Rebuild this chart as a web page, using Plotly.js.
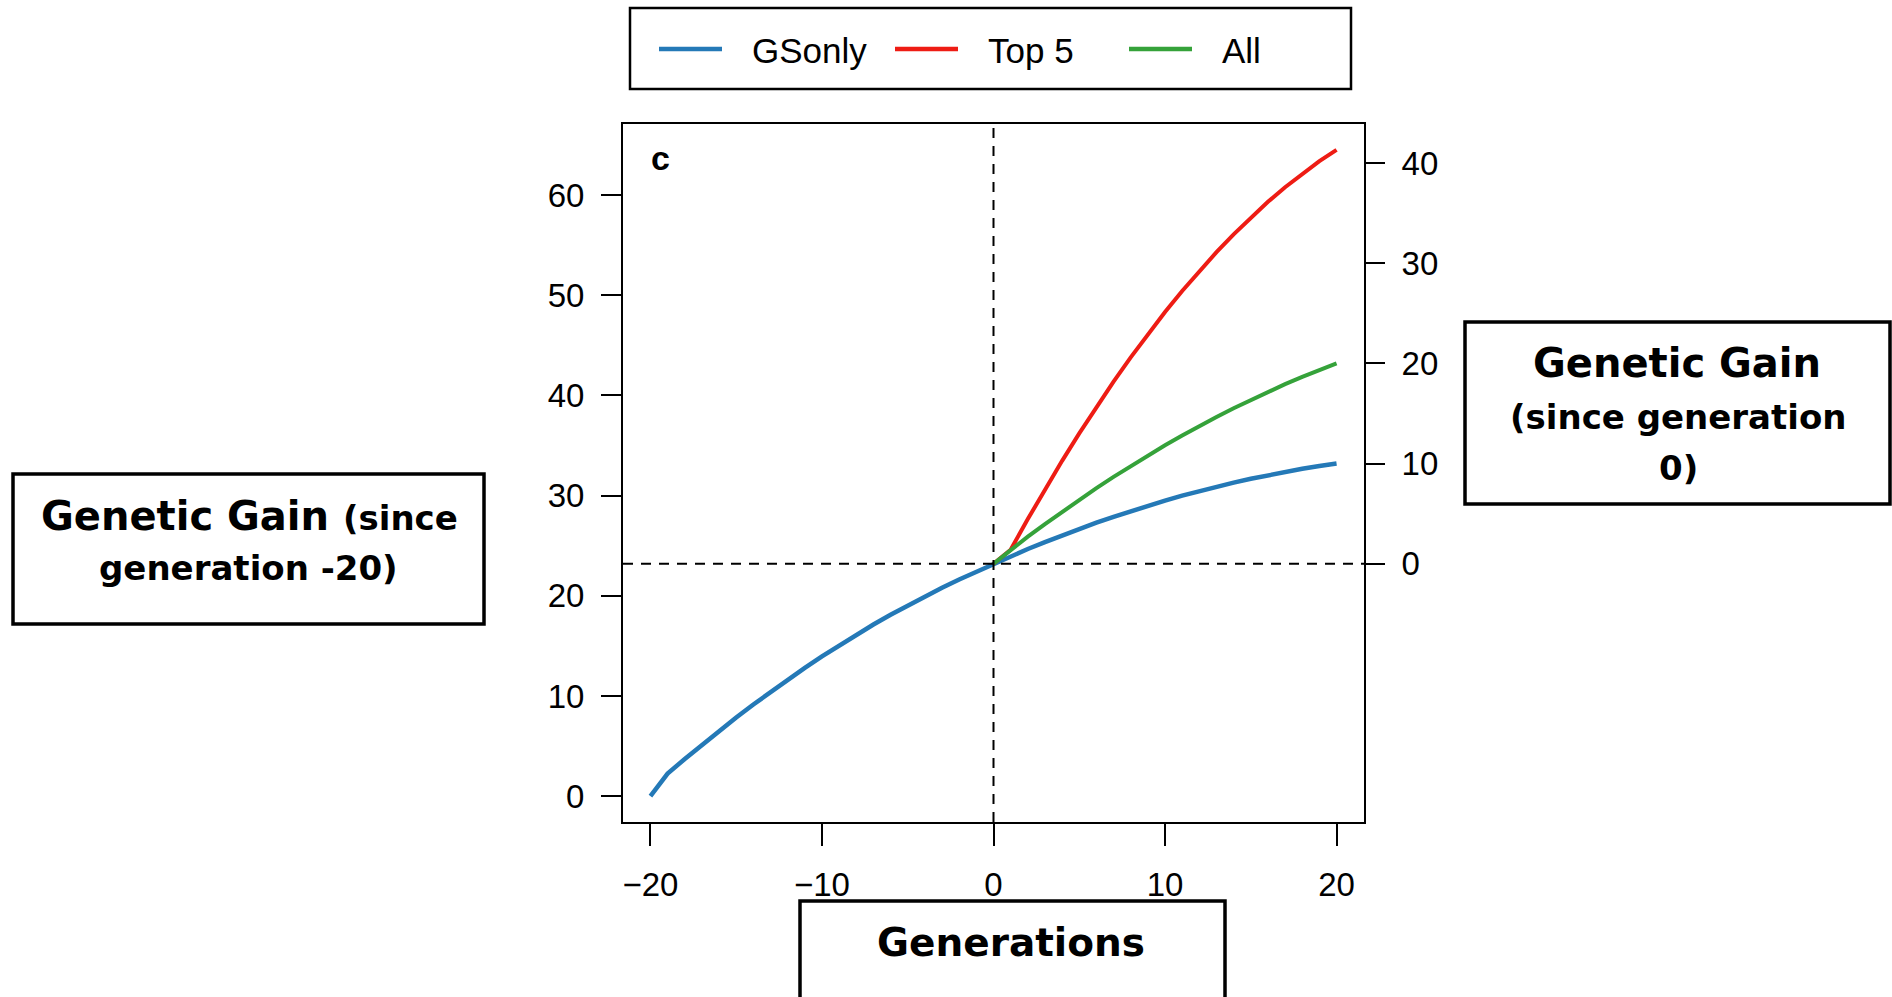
<!DOCTYPE html>
<html><head><meta charset="utf-8">
<script src="https://cdn.plot.ly/plotly-3.0.1.min.js"></script>
<style>html,body{margin:0;padding:0;background:#fff;} #chart{width:1892px;height:997px;}</style>
</head><body><div id="chart"></div>
<script>
// ---- data ----
const generations = [-20,-19,-18,-17,-16,-15,-14,-13,-12,-11,-10,-9,-8,-7,-6,-5,-4,-3,-2,-1,0,1,2,3,4,5,6,7,8,9,10,11,12,13,14,15,16,17,18,19,20];
const gsonly = [0,2.25,3.71,5.13,6.51,7.85,9.15,10.41,11.63,12.81,13.95,15.05,16.11,17.13,18.11,19.05,19.95,20.81,21.63,22.42,23.2,
                23.95,24.67,25.36,26.03,26.68,27.29,27.88,28.45,28.99,29.5,29.99,30.45,30.88,31.29,31.68,32.03,32.36,32.67,32.95,33.2];
const selGenerations = [0,1,2,3,4,5,6,7,8,9,10,11,12,13,14,15,16,17,18,19,20];
const top5 = [23.2,24.6,27.66,30.62,33.47,36.21,38.85,41.38,43.8,46.12,48.32,50.42,52.42,54.3,56.08,57.76,59.32,60.78,62.13,63.38,64.51];
const all = [23.2,24.6,25.9,27.16,28.39,29.59,30.74,31.87,32.95,34.0,35.02,35.99,36.94,37.84,38.72,39.55,40.35,41.12,41.85,42.54,43.2];
const seriesNames = ['GSonly','Top 5','All'];
const seriesColors = ['#2479b7','#ee1c14','#35a23a'];
const xTickVals = [-20,-10,0,10,20];
const leftTickVals = [0,10,20,30,40,50,60];
const rightTickVals = [0,10,20,30,40];
const panelLabel = 'c';
const xTitle = 'Generations';

// ---- layout helpers (pixel geometry of the figure) ----
const W = 1892, H = 997;
const PL = 623, PR = 1364, PT = 124, PB = 822;
const px = v => (v - PL) / (PR - PL);
const py = v => (PB - v) / (PB - PT);

// R-style 4% axis expansion
function expand(a, b){ const d = (b - a) * 0.04; return [a - d, b + d]; }
const xr = expand(Math.min(...generations), Math.max(...generations));
const allVals = gsonly.concat(top5, all);
const yr = expand(Math.min(...allVals), Math.max(...allVals));
const base = gsonly[generations.indexOf(0)];
const yr2 = [yr[0] - base, yr[1] - base];

const tickFont = {family:'Liberation Sans, Arial, sans-serif', size:33, color:'#000'};
const legendFont = {family:'Liberation Sans, Arial, sans-serif', size:35, color:'#000'};

const traces = [
  {x: generations, y: gsonly, name: seriesNames[0], type:'scatter', mode:'lines', line:{color:seriesColors[0], width:4.5}},
  {x: selGenerations, y: top5, name: seriesNames[1], type:'scatter', mode:'lines', line:{color:seriesColors[1], width:4}},
  {x: selGenerations, y: all, name: seriesNames[2], type:'scatter', mode:'lines', line:{color:seriesColors[2], width:4}},
  {x: [null], y: [null], yaxis:'y2', showlegend:false, hoverinfo:'skip', type:'scatter', mode:'lines'}
];

function box(x0,y0,x1,y1,w){
  return {type:'rect', xref:'paper', yref:'paper', x0:px(x0), x1:px(x1), y0:py(y1), y1:py(y0), line:{color:'#000', width:w}, fillcolor:'rgba(0,0,0,0)', layer:'above'};
}
function label(text, xc, yc, size){
  return {text:text, xref:'paper', yref:'paper', x:px(xc), y:py(yc), xanchor:'center', yanchor:'middle', showarrow:false,
          font:{family:'DejaVu Sans, sans-serif', size:size, color:'#000'}};
}

// legend drawn in the boxed strip above the plot
const legendSymbolStart = [659, 895, 1129];
const legendSymbolLen = 63, legendTextGap = 28, legendY = 49;
const legendShapes = seriesNames.map((n, i) => ({type:'line', xref:'paper', yref:'paper',
  x0: px(legendSymbolStart[i]), x1: px(legendSymbolStart[i] + legendSymbolLen), y0: py(legendY), y1: py(legendY),
  line:{color: seriesColors[i], width: 4.5}}));
const legendTexts = seriesNames.map((n, i) => ({text: n, xref:'paper', yref:'paper',
  x: px(legendSymbolStart[i] + legendSymbolLen + legendTextGap), y: py(legendY + 1), xanchor:'left', yanchor:'middle',
  showarrow:false, font: legendFont}));

const layout = {
  width: W, height: H,
  margin: {l: PL, r: W - PR, t: PT, b: H - PB, pad: 0},
  paper_bgcolor:'#fff', plot_bgcolor:'#fff',
  showlegend: false,
  xaxis: {range: xr, tickvals: xTickVals, ticks:'outside', ticklen:22, tickwidth:2, tickcolor:'#000',
          showline:true, mirror:true, linecolor:'#000', linewidth:2, showgrid:false, zeroline:false,
          tickfont: tickFont, ticklabelstandoff: 10},
  yaxis: {range: yr, tickvals: leftTickVals, ticks:'outside', ticklen:20, tickwidth:2, tickcolor:'#000',
          showline:true, mirror:true, linecolor:'#000', linewidth:2, showgrid:false, zeroline:false,
          tickfont: tickFont, ticklabelstandoff: 10},
  yaxis2: {range: yr2, tickvals: rightTickVals, overlaying:'y', side:'right', ticks:'outside', ticklen:20, tickwidth:2,
           tickcolor:'#000', showline:false, showgrid:false, zeroline:false, tickfont: tickFont, ticklabelstandoff: 10},
  shapes: [
    {type:'line', xref:'x', yref:'paper', x0:0, x1:0, y0:0, y1:1, line:{color:'#000', width:2, dash:'10px,8px'}, layer:'above'},
    {type:'line', xref:'paper', yref:'y', x0:0, x1:1, y0:base, y1:base, line:{color:'#000', width:2, dash:'10px,8px'}, layer:'above'},
    box(630, 8, 1351, 89, 2.5),
    box(13, 474, 484, 624, 3.5),
    box(1465, 322, 1890, 504, 3.5),
    box(800, 901, 1225, 1010, 3.5)
  ].concat(legendShapes),
  annotations: [
    {text:'<b>' + panelLabel + '</b>', xref:'paper', yref:'paper', x:px(660), y:py(158), xanchor:'center', yanchor:'middle', showarrow:false,
     font:{family:'Liberation Sans, Arial, sans-serif', size:34, color:'#000'}},
    label('<b>Genetic Gain <span style="font-size:34px">(since</span></b>', 249, 516, 40),
    label('<b>generation -20)</b>', 248, 568, 34),
    label('<b>Genetic Gain</b>', 1677, 363, 40),
    label('<b>(since generation</b>', 1678, 417, 34),
    label('<b>0)</b>', 1678, 468, 34),
    label('<b>' + xTitle + '</b>', 1011, 942, 39)
  ].concat(legendTexts)
};

Plotly.newPlot('chart', traces, layout, {staticPlot:true, displayModeBar:false});
</script>
</body></html>
